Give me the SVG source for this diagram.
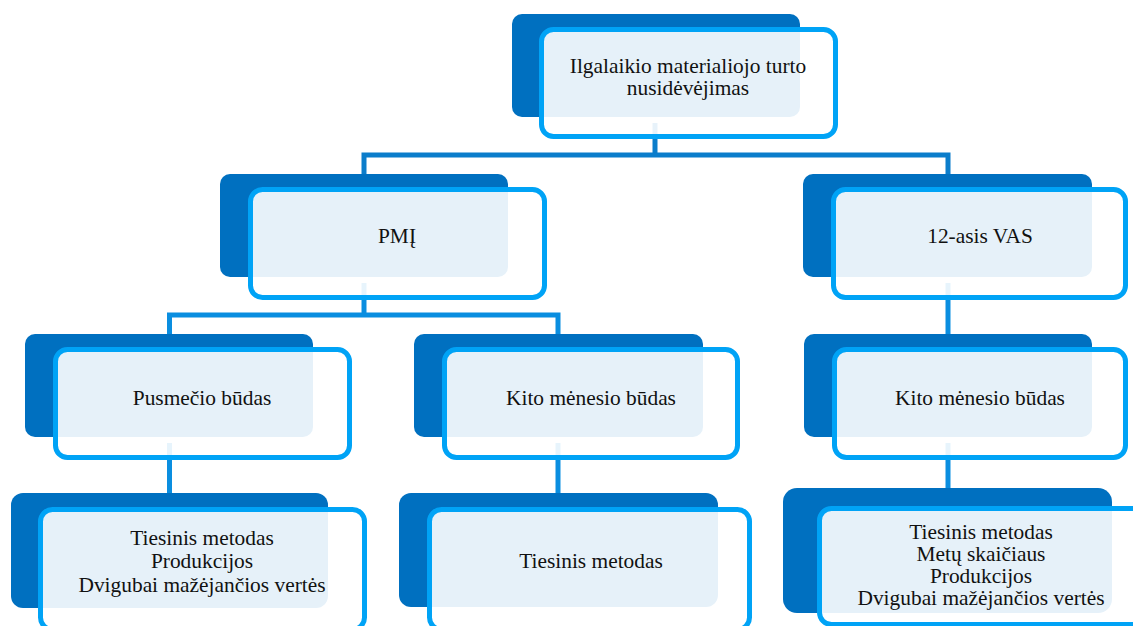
<svg xmlns="http://www.w3.org/2000/svg" width="1133" height="626" viewBox="0 0 1133 626">
  <style>
    .back { fill: #0070C0; }
    .front { fill: #FFFFFF; fill-opacity: 0.9; stroke: #00A3F6; stroke-width: 5; }
    .conn1 { fill: none; stroke: #0B7DCB; stroke-width: 5; }
    .conn2 { fill: none; stroke: #0A8EE0; stroke-width: 5; }
    .label { font-size: 21.4px; fill: #111111; text-anchor: middle; }
  </style>
  <rect width="1133" height="626" fill="#FFFFFF"/>

  <!-- connectors, drawn under the boxes -->
  <g id="connectors">
    <path class="conn1" d="M655 123 V155"/>
    <path class="conn1" d="M364 174 V155 H948 V174"/>
    <path class="conn2" d="M364 283 V315"/>
    <path class="conn2" d="M169.5 334 V315 H558 V334"/>
    <path class="conn2" d="M948 283 V334"/>
    <path class="conn2" d="M169.5 443 V493"/>
    <path class="conn2" d="M558 443 V493"/>
    <path class="conn2" d="M948 443 V488"/>
  </g>

  <g font-family="'Liberation Serif', 'DejaVu Serif', serif">
  <g id="node-root">
    <rect class="back" x="512" y="14" width="288" height="103" rx="10"/>
    <rect class="front" x="541.5" y="29.5" width="294" height="107" rx="12"/>
    <text class="label" x="688" y="73">Ilgalaikio materialiojo turto</text>
    <text class="label" x="688" y="95">nusidėvėjimas</text>
  </g>

  <g id="node-pmi">
    <rect class="back" x="220" y="174" width="288" height="103" rx="10"/>
    <rect class="front" x="250.5" y="189.5" width="294" height="108" rx="12"/>
    <text class="label" x="397" y="243">PMĮ</text>
  </g>

  <g id="node-vas">
    <rect class="back" x="803" y="174" width="289" height="103" rx="10"/>
    <rect class="front" x="833.5" y="189.5" width="292" height="108" rx="12"/>
    <text class="label" x="980" y="243">12-asis VAS</text>
  </g>

  <g id="node-pusmecio">
    <rect class="back" x="25" y="334" width="288" height="103" rx="10"/>
    <rect class="front" x="55.5" y="349.5" width="294" height="108" rx="12"/>
    <text class="label" x="202" y="405">Pusmečio būdas</text>
  </g>

  <g id="node-kito-pmi">
    <rect class="back" x="414" y="334" width="289" height="103" rx="10"/>
    <rect class="front" x="444.5" y="349.5" width="293" height="108" rx="12"/>
    <text class="label" x="591" y="405">Kito mėnesio būdas</text>
  </g>

  <g id="node-kito-vas">
    <rect class="back" x="804" y="334" width="288" height="103" rx="10"/>
    <rect class="front" x="834.5" y="349.5" width="291" height="108" rx="12"/>
    <text class="label" x="980" y="405">Kito mėnesio būdas</text>
  </g>

  <g id="node-metodai-pusmecio">
    <rect class="back" x="11" y="493" width="317" height="115" rx="12"/>
    <rect class="front" x="40.5" y="509.5" width="324" height="120" rx="12"/>
    <text class="label" x="202" y="545">Tiesinis metodas</text>
    <text class="label" x="202" y="568">Produkcijos</text>
    <text class="label" x="202" y="592">Dvigubai mažėjančios vertės</text>
  </g>

  <g id="node-metodai-kito">
    <rect class="back" x="399" y="493" width="319" height="114" rx="12"/>
    <rect class="front" x="429.5" y="509.5" width="320" height="120" rx="12"/>
    <text class="label" x="591" y="568">Tiesinis metodas</text>
  </g>

  <g id="node-metodai-vas">
    <rect class="back" x="783" y="488" width="329" height="125" rx="14"/>
    <rect class="front" x="819.5" y="508.5" width="330" height="116" rx="12"/>
    <text class="label" x="981" y="539">Tiesinis metodas</text>
    <text class="label" x="981" y="561">Metų skaičiaus</text>
    <text class="label" x="981" y="583">Produkcijos</text>
    <text class="label" x="981" y="605">Dvigubai mažėjančios vertės</text>
  </g>
  </g>
</svg>
